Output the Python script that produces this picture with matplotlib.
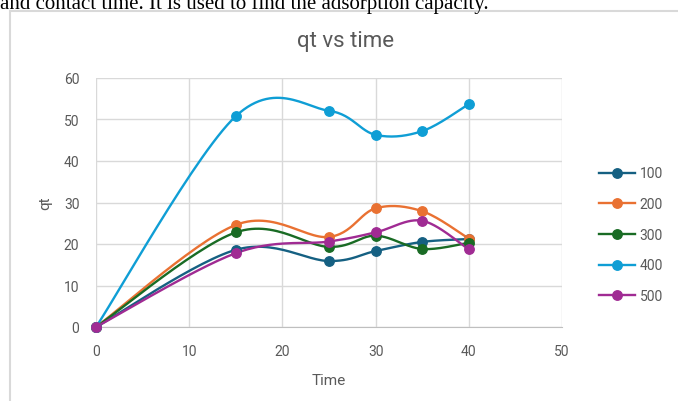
import numpy as np
import matplotlib
matplotlib.use("Agg")
import matplotlib.pyplot as plt
from matplotlib.patches import Rectangle

time = [0, 15, 25, 30, 35, 40]
series_names = ["100", "200", "300", "400", "500"]
q100 = [0, 18.6, 15.9, 18.3, 20.5, 21.2]
q200 = [0, 24.6, 21.7, 28.6, 27.9, 21.3]
q300 = [0, 22.8, 19.3, 22.0, 18.8, 20.3]
q400 = [0, 50.8, 52.1, 46.3, 47.2, 53.7]
q500 = [0, 17.8, 20.6, 22.8, 25.6, 18.7]
colors = ["#156082", "#E97132", "#196B24", "#0F9ED5", "#A02B93"]

plt.rcParams["font.family"] = ["Roboto", "DejaVu Sans"]

W, H = 678, 402
fig = plt.figure(figsize=(W / 100, H / 100), dpi=100)

def smooth(x, y, n=30):
    # Excel-like smoothing: cubic Bezier with Catmull-Rom control points
    x = np.asarray(x, float); y = np.asarray(y, float)
    px, py = [], []
    m = len(x)
    for i in range(m - 1):
        x0, y0 = (x[i - 1], y[i - 1]) if i > 0 else (x[i], y[i])
        x3, y3 = (x[i + 2], y[i + 2]) if i + 2 < m else (x[i + 1], y[i + 1])
        c1 = (x[i] + (x[i + 1] - x0) / 6, y[i] + (y[i + 1] - y0) / 6)
        c2 = (x[i + 1] - (x3 - x[i]) / 6, y[i + 1] - (y3 - y[i]) / 6)
        t = np.linspace(0, 1, n)
        bx = (1 - t) ** 3 * x[i] + 3 * (1 - t) ** 2 * t * c1[0] + 3 * (1 - t) * t ** 2 * c2[0] + t ** 3 * x[i + 1]
        by = (1 - t) ** 3 * y[i] + 3 * (1 - t) ** 2 * t * c1[1] + 3 * (1 - t) * t ** 2 * c2[1] + t ** 3 * y[i + 1]
        px.extend(bx); py.extend(by)
    return np.array(px), np.array(py)

# chart border
fig.patches.append(Rectangle((10 / W, -0.1), 1.2, (H - 12) / H + 0.1, transform=fig.transFigure,
                             fill=False, edgecolor="#d9d9d9", linewidth=1.5))
# top text (partially cut, as in the source page)
fig.text(0 / W, 1 - 9 / H, "and contact time. It is used to find the adsorption capacity.",
         fontsize=15, family="Liberation Serif", color="black", va="baseline", ha="left")

ax = fig.add_axes([96 / W, 1 - 328 / H, 466 / W, 249 / H])
for name, ys, c in zip(series_names, [q100, q200, q300, q400, q500], colors):
    sx, sy = smooth(time, ys)
    ax.plot(sx, sy, color=c, lw=1.7, solid_capstyle="round", zorder=3)
    ax.plot(time, ys, linestyle="none", marker="o", ms=6.8, color=c, zorder=4)
    ax.plot([], [], color=c, lw=1.7, marker="o", ms=6.8, label=name)

ax.set_xlim(0, 50)
ax.set_ylim(0, 60)
ax.set_xticks(range(0, 51, 10))
ax.set_yticks(range(0, 61, 10))
ax.grid(True, color="#d9d9d9", lw=1)
ax.set_axisbelow(True)
for s in ["top", "right", "left"]:
    ax.spines[s].set_visible(False)
ax.spines["bottom"].set_color("#bfbfbf")
ax.tick_params(length=0, labelsize=10, labelcolor="#595959")
ax.tick_params(axis="y", pad=12)
ax.tick_params(axis="x", pad=12)
ax.set_xlabel("Time", fontsize=11, color="#595959", labelpad=11)
ax.set_ylabel("qt", fontsize=11, color="#595959", labelpad=8)
for l in ax.lines:
    l.set_clip_on(False)

fig.text(346 / W, 1 - 42 / H, "qt vs time", fontsize=16, color="#595959", ha="center", va="center")

leg = fig.legend(loc="upper left", bbox_to_anchor=(586 / W, 1 - 155 / H), frameon=False,
                 fontsize=10, labelspacing=1.2, handlelength=2.6, handletextpad=0.35)
for t in leg.get_texts():
    t.set_color("#595959")

fig.savefig("out.png", dpi=100)
